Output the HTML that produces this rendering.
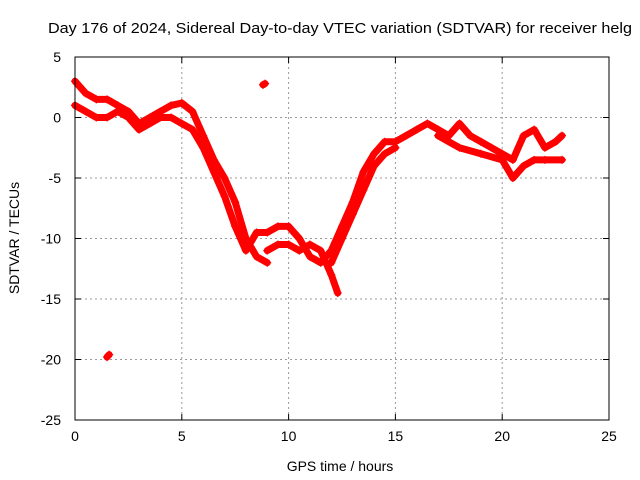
<!DOCTYPE html>
<html><head><meta charset="utf-8"><style>
body{margin:0;background:#fff;}
svg{display:block;font-family:"Liberation Sans",sans-serif;}
</style></head><body>
<svg id="chart" width="640" height="480">
<text x="48" y="33" font-size="15" textLength="584" lengthAdjust="spacingAndGlyphs">Day 176 of 2024, Sidereal Day-to-day VTEC variation (SDTVAR) for receiver helg</text>
<text x="340" y="471" font-size="14" text-anchor="middle">GPS time / hours</text>
<text transform="translate(19,238) rotate(-90)" font-size="14" text-anchor="middle">SDTVAR / TECUs</text>
<g id="grid"></g><g id="ticks"></g><g id="series"></g>
<rect x="75" y="57" width="534" height="363" fill="none" stroke="#000" stroke-width="1"/>
</svg>
<script>
const xTicks=[0,5,10,15,20,25];
const yTicks=[5,0,-5,-10,-15,-20,-25];
const trackAx=[0,0.5,1,1.5,2,2.5,3,3.5,4,4.5,5,5.5,6,6.5,7,7.5,8,8.5,9];
const trackAy=[3,2,1.5,1.5,1,0.5,-0.5,0,0.5,1,1.2,0.5,-1.5,-3.5,-5,-7,-10,-11.5,-12];
const trackBx=[0,0.5,1,1.5,2,2.5,3,3.5,4,4.5,5,5.5,6,6.5,7,7.5,8,8.5,9,9.5,10,10.5,11,11.5,12,12.5,13,13.5,14,14.5,15,15.5,16,16.5,17,17.5,18,18.5,19,19.5,20,20.5,21,21.5,22,22.5,22.8];
const trackBy=[1,0.5,0,0,0.5,0,-1,-0.5,0,0,-0.5,-1,-2.5,-4.5,-6.5,-9,-11,-9.5,-9.5,-9,-9,-10,-11.5,-12,-11,-9,-7,-4.5,-3,-2,-2,-1.5,-1,-0.5,-1,-1.5,-0.5,-1.5,-2,-2.5,-3,-3.5,-1.5,-1,-2.5,-2,-1.5];
const trackCx=[9,9.5,10,10.5,11,11.5,12,12.3];
const trackCy=[-11,-10.5,-10.5,-11,-10.5,-11,-13,-14.5];
const trackDx=[17,18,19,20,20.5,21,21.5,22,22.8];
const trackDy=[-1.5,-2.5,-3,-3.5,-5,-4,-3.5,-3.5,-3.5];
const trackEx=[12,12.5,13,13.5,14,14.5,15];
const trackEy=[-12,-10,-8,-6,-4,-3,-2.5];
const outX=[1.5,1.6,8.8,8.9];
const outY=[-19.8,-19.6,2.7,2.8];

const NS="http://www.w3.org/2000/svg";
const X=v=>75+(v-0)/25*534;
const Y=v=>57+(5-v)/30*363;
const grid=document.getElementById('grid'),ticks=document.getElementById('ticks'),ser=document.getElementById('series');
function mk(t,a,p){const e=document.createElementNS(NS,t);for(const k in a)e.setAttribute(k,a[k]);p.appendChild(e);return e;}
xTicks.forEach(v=>{
  if(v>0&&v<25){const l=mk('line',{x1:X(v),x2:X(v),y1:57,y2:420,stroke:'#999','stroke-dasharray':'2,3'},grid);
  
  }
  const t=mk('text',{x:X(v),y:441,'font-size':14,'text-anchor':'middle'},ticks);t.textContent=v;
  
  
  mk('line',{x1:X(v),x2:X(v),y1:420,y2:414,stroke:'#000'},ticks);
  mk('line',{x1:X(v),x2:X(v),y1:57,y2:63,stroke:'#000'},ticks);
});
yTicks.forEach(v=>{
  if(v<5&&v>-25){const l=mk('line',{x1:75,x2:609,y1:Y(v),y2:Y(v),stroke:'#999','stroke-dasharray':'2,3'},grid);
  
  }
  const t=mk('text',{x:61,y:Y(v)+5,'font-size':14,'text-anchor':'end'},ticks);t.textContent=v;
  
  
  mk('line',{x1:75,x2:81,y1:Y(v),y2:Y(v),stroke:'#000'},ticks);
  mk('line',{x1:609,x2:603,y1:Y(v),y2:Y(v),stroke:'#000'},ticks);
});
function track(xs,ys,name){
  const pts=xs.map((x,i)=>X(x)+','+Y(ys[i])).join(' ');
  const pl=mk('polyline',{points:pts,fill:'none',stroke:'#f00','stroke-width':7,'stroke-linejoin':'round','stroke-linecap':'round'},ser);
  
  
  xs.forEach((x,i)=>{const cx=X(x),cy=Y(ys[i]);
    const p=mk('path',{d:`M${cx-4},${cy}h8M${cx},${cy-4}v8`,stroke:'#f00','stroke-width':1.2},ser);
    
    });
}
track(trackAx,trackAy,'series-track-a');
track(trackBx,trackBy,'series-track-b');
track(trackCx,trackCy,'series-track-c');
track(trackDx,trackDy,'series-track-d');
track(trackEx,trackEy,'series-track-e');
track(outX.slice(0,2),outY.slice(0,2),'outlier-low');
track(outX.slice(2),outY.slice(2),'outlier-high');
</script>
</body></html>
